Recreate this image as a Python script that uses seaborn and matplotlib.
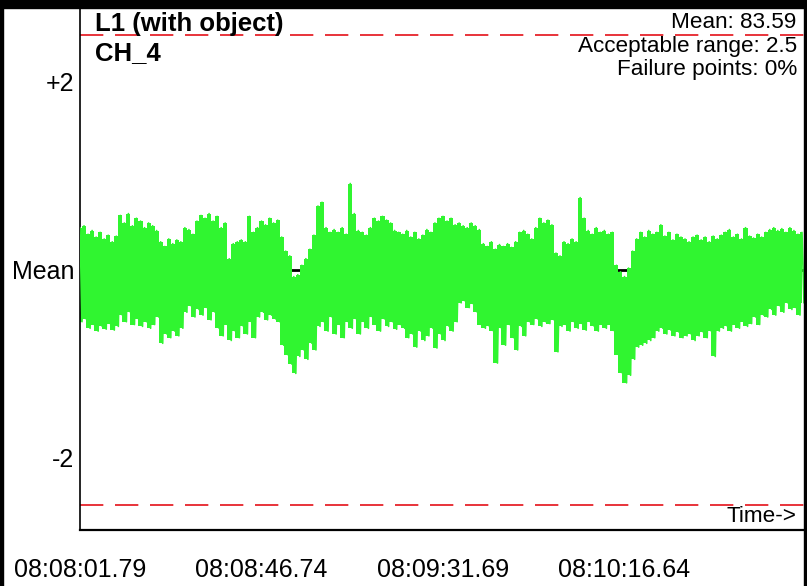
import numpy as np
import pandas as pd
import matplotlib
matplotlib.use("Agg")
import matplotlib.pyplot as plt
from matplotlib.patches import Rectangle
import seaborn as sns

# Readings around the mean, one upper peak and one lower peak per second
upper_peaks = [
    0.45, 0.47, 0.38, 0.42, 0.35, 0.40, 0.33, 0.37, 0.30, 0.36,
    0.58, 0.50, 0.60, 0.47, 0.55, 0.52, 0.45, 0.50, 0.47, 0.42,
    0.30, 0.25, 0.33, 0.28, 0.32, 0.30, 0.45, 0.43, 0.38, 0.52,
    0.58, 0.55, 0.60, 0.52, 0.57, 0.45, 0.50, 0.12, 0.28, 0.30,
    0.32, 0.30, 0.57, 0.40, 0.45, 0.52, 0.48, 0.55, 0.50, 0.53,
    0.35, 0.20, 0.15, -0.07, -0.05, 0.05, 0.12, 0.22, 0.37, 0.68,
    0.72, 0.45, 0.40, 0.43, 0.40, 0.45, 0.38, 0.92, 0.60, 0.42,
    0.40, 0.37, 0.45, 0.55, 0.52, 0.57, 0.53, 0.50, 0.42, 0.40,
    0.38, 0.42, 0.35, 0.40, 0.33, 0.37, 0.43, 0.40, 0.50, 0.55,
    0.57, 0.52, 0.55, 0.48, 0.50, 0.47, 0.45, 0.50, 0.47, 0.43,
    0.28, 0.25, 0.30, 0.22, 0.27, 0.25, 0.28, 0.24, 0.30, 0.40,
    0.42, 0.38, 0.33, 0.45, 0.55, 0.50, 0.53, 0.48, 0.18, 0.15,
    0.30, 0.28, 0.33, 0.30, 0.77, 0.55, 0.42, 0.38, 0.45, 0.40,
    0.42, 0.38, 0.40, 0.05, -0.02, -0.07, 0.02, 0.20, 0.33, 0.40,
    0.35, 0.42, 0.38, 0.40, 0.48, 0.36, 0.40, 0.32, 0.38, 0.35,
    0.33, 0.30, 0.35, 0.37, 0.32, 0.35, 0.30, 0.36, 0.33, 0.37,
    0.40, 0.43, 0.35, 0.38, 0.33, 0.45, 0.36, 0.34, 0.38, 0.35,
    0.40, 0.43, 0.45, 0.42, 0.44, 0.40, 0.45, 0.42, 0.38, 0.40,
]
lower_peaks = [
    -0.55, -0.52, -0.62, -0.58, -0.65, -0.60, -0.63, -0.57, -0.64, -0.60,
    -0.48, -0.55, -0.45, -0.58, -0.52, -0.60, -0.55, -0.62, -0.58, -0.50,
    -0.78, -0.68, -0.72, -0.65, -0.70, -0.62, -0.45, -0.38, -0.50, -0.42,
    -0.48, -0.40, -0.53, -0.45, -0.62, -0.70, -0.58, -0.75, -0.65, -0.72,
    -0.60, -0.68, -0.55, -0.72, -0.50, -0.45, -0.53, -0.48, -0.52, -0.55,
    -0.80, -0.90, -1.00, -1.10, -0.92, -0.85, -0.95, -0.78, -0.85, -0.60,
    -0.55, -0.65, -0.50, -0.68, -0.58, -0.72, -0.55, -0.62, -0.52, -0.68,
    -0.55, -0.62, -0.50, -0.58, -0.65, -0.52, -0.60, -0.55, -0.63, -0.58,
    -0.62, -0.72, -0.68, -0.82, -0.65, -0.75, -0.70, -0.62, -0.83, -0.68,
    -0.75, -0.60, -0.65, -0.55, -0.35, -0.33, -0.40, -0.36, -0.45, -0.58,
    -0.62, -0.60, -0.65, -0.99, -0.62, -0.80, -0.58, -0.72, -0.85, -0.60,
    -0.70, -0.55, -0.58, -0.52, -0.60, -0.55, -0.57, -0.53, -0.87, -0.60,
    -0.58, -0.65, -0.55, -0.62, -0.57, -0.64, -0.55, -0.60, -0.65, -0.58,
    -0.62, -0.58, -0.65, -0.90, -1.10, -1.20, -1.12, -0.95, -0.82, -0.80,
    -0.78, -0.75, -0.72, -0.65, -0.62, -0.68, -0.64, -0.70, -0.66, -0.72,
    -0.70, -0.68, -0.75, -0.70, -0.66, -0.72, -0.65, -0.92, -0.65, -0.62,
    -0.60, -0.65, -0.58, -0.62, -0.55, -0.60, -0.57, -0.50, -0.58, -0.48,
    -0.50, -0.42, -0.48, -0.38, -0.45, -0.35, -0.42, -0.40, -0.48, -0.35,
]

tick_seconds = [0, 44.95, 89.90, 134.85]
tick_labels = ["08:08:01.79", "08:08:46.74", "08:09:31.69", "08:10:16.64"]
mean_value = 83.59
acceptable_range = 2.5
failure_pct = 0

GREEN = "#30F530"

# interleave the peaks so the trace zigzags like the raw signal
n = len(upper_peaks)
secs = np.arange(n, dtype=float)
t = np.empty(2 * n)
v = np.empty(2 * n)
t[0::2] = secs
t[1::2] = secs + 0.5
v[0::2] = upper_peaks
v[1::2] = lower_peaks
df = pd.DataFrame({"time": t, "value": v})

sns.set_style("white")
plt.rcParams["font.family"] = ["Liberation Sans", "DejaVu Sans"]
plt.rcParams["text.color"] = "black"

fig = plt.figure(figsize=(8.07, 5.86), dpi=100)
ax = fig.add_axes([80 / 807, 56 / 586, 724 / 807, 522 / 586])

# limits and mean line under the signal
for lim in (acceptable_range, -acceptable_range):
    ax.axhline(lim, color="#E8333A", lw=1.4, ls=(0, (12, 6)), zorder=1)
ax.axhline(0, color="black", lw=2, zorder=1)

# solid body of the trace, one bar per second
ax.fill_between(secs, lower_peaks, upper_peaks, step="mid",
                color=GREEN, lw=0, zorder=2)
sns.lineplot(data=df, x="time", y="value", color=GREEN, lw=1.2,
             sort=False, estimator=None, ax=ax, zorder=3)

ax.set_xlim(0, 179.5)
ax.set_ylim(-2.766, 2.787)
ax.set_xlabel("")
ax.set_ylabel("")

ax.set_yticks([2, 0, -2])
ax.set_yticklabels(["+2", "Mean", "-2"])
ax.set_xticks(tick_seconds)
ax.set_xticklabels(tick_labels)
ax.tick_params(axis="y", direction="in", length=6, width=2.5, pad=4,
               labelsize=18, colors="black")
ax.tick_params(axis="x", direction="in", length=10, width=2, pad=20,
               labelsize=18, colors="black")

for side in ("top", "right"):
    ax.spines[side].set_visible(False)
ax.spines["left"].set_linewidth(1.2)
ax.spines["bottom"].set_linewidth(1.6)
ax.spines["left"].set_color("black")
ax.spines["bottom"].set_color("black")

ax.text(0.021, 0.993, "L1 (with object)", transform=ax.transAxes,
        ha="left", va="top", fontsize=18.5, fontweight="bold", color="black")
ax.text(0.021, 0.937, "CH_4", transform=ax.transAxes,
        ha="left", va="top", fontsize=18.5, fontweight="bold", color="black")

info = [f"Mean: {mean_value:.2f}",
        f"Acceptable range: {acceptable_range}",
        f"Failure points: {failure_pct}%"]
for i, line in enumerate(info):
    ax.text(0.990, 0.992 - i * 0.045, line, transform=ax.transAxes,
            ha="right", va="top", fontsize=16.2, color="black")

ax.text(0.990, 0.006, "Time->", transform=ax.transAxes,
        ha="right", va="bottom", fontsize=16.2, color="black")

# black frame of the window
fig.add_artist(Rectangle((0, 1 - 8 / 586), 1, 8 / 586, transform=fig.transFigure,
                         color="black", zorder=5))
fig.add_artist(Rectangle((0, 0), 3 / 807, 1, transform=fig.transFigure,
                         color="black", zorder=5))
fig.add_artist(Rectangle((1 - 3 / 807, 0), 3 / 807, 1, transform=fig.transFigure,
                         color="black", zorder=5))

fig.savefig("out.png", dpi=100)
